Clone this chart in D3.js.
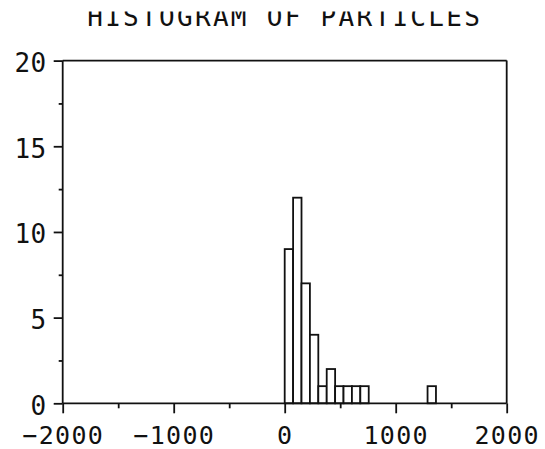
<!DOCTYPE html>
<html><head><meta charset="utf-8">
<script src="https://cdn.jsdelivr.net/npm/d3@7"></script>
<style>
html,body{margin:0;padding:0;background:#fff;}
text{font-family:"DejaVu Sans Mono",monospace;fill:#111;}
</style></head>
<body><svg id="c" width="545" height="449"></svg>
<script>
const title = "HISTOGRAM OF PARTICLES";
const binStarts = [0, 75.7, 151.4, 227.1, 302.8, 378.5, 454.2, 529.9, 605.6, 681.3, 1287];
const counts = [9, 12, 7, 4, 1, 2, 1, 1, 1, 1, 1];
const binWidth = 75.7;
const xMajorTicks = [-2000, -1000, 0, 1000, 2000];
const xMinorTicks = [-1500, -500, 500, 1500];
const yMajorTicks = [0, 5, 10, 15, 20];
const yMinorTicks = [2.5, 7.5, 12.5, 17.5];

const svg = d3.select("#c");
const x = d3.scaleLinear().domain([-2000, 2000]).range([62.7, 506.7]);
const y = d3.scaleLinear().domain([0, 20]).range([403.3, 60.6]);
const sw = 1.8, col = "#111";

// title (clipped at top like reference)
svg.append("clipPath").attr("id","tc").append("rect").attr("x",0).attr("y",11.5).attr("width",545).attr("height",40);
svg.append("text").attr("clip-path","url(#tc)")
  .attr("x", x(0)).attr("y", 26).attr("text-anchor","middle")
  .attr("font-size", 26).attr("letter-spacing", 2.3).text(title);

// bars
svg.append("g").selectAll("rect").data(counts).join("rect")
  .attr("x", (d,i) => x(binStarts[i]))
  .attr("width", (d,i) => x(binStarts[i] + binWidth) - x(binStarts[i]))
  .attr("y", d => y(d)).attr("height", d => y(0) - y(d))
  .attr("fill","#fff").attr("stroke",col).attr("stroke-width",sw);

// frame
const g = svg.append("g").attr("stroke",col).attr("stroke-width",sw).attr("fill","none");
g.append("line").attr("x1",x(-2000)).attr("x2",x(2000)).attr("y1",y(0)).attr("y2",y(0));
g.append("line").attr("x1",x(-2000)).attr("x2",x(2000)).attr("y1",y(20)).attr("y2",y(20));
g.append("line").attr("x1",x(-2000)).attr("x2",x(-2000)).attr("y1",y(20)).attr("y2",y(0));
g.append("line").attr("x1",x(2000)).attr("x2",x(2000)).attr("y1",y(20)).attr("y2",y(0));

// x axis ticks via d3 axis
const xAxisMajor = d3.axisBottom(x).tickValues(xMajorTicks).tickSize(10).tickFormat(d => d < 0 ? "\u2212" + Math.abs(d) : d);
const xa = svg.append("g").attr("transform",`translate(0,${y(0)})`).call(xAxisMajor);
const xAxisMinor = d3.axisBottom(x).tickValues(xMinorTicks).tickSize(5).tickFormat("");
const xm = svg.append("g").attr("transform",`translate(0,${y(0)})`).call(xAxisMinor);
const yAxisMajor = d3.axisLeft(y).tickValues(yMajorTicks).tickSize(9).tickPadding(7);
const ya = svg.append("g").attr("transform",`translate(${x(-2000)},0)`).call(yAxisMajor);
const yAxisMinor = d3.axisLeft(y).tickValues(yMinorTicks).tickSize(4).tickFormat("");
const ym = svg.append("g").attr("transform",`translate(${x(-2000)},0)`).call(yAxisMinor);
[xa,xm,ya,ym].forEach(a => {
  a.select(".domain").remove();
  a.selectAll(".tick line").attr("stroke",col).attr("stroke-width",sw);
  a.selectAll("text").attr("font-family","DejaVu Sans Mono").attr("font-size",26).attr("fill",col);
});
xa.selectAll("text").attr("dy", null).attr("y", 41).attr("font-size", 25).attr("letter-spacing", 1.3);
ya.selectAll("text").attr("dy", null).attr("y", 11).attr("letter-spacing", 0.5);
</script></body></html>
